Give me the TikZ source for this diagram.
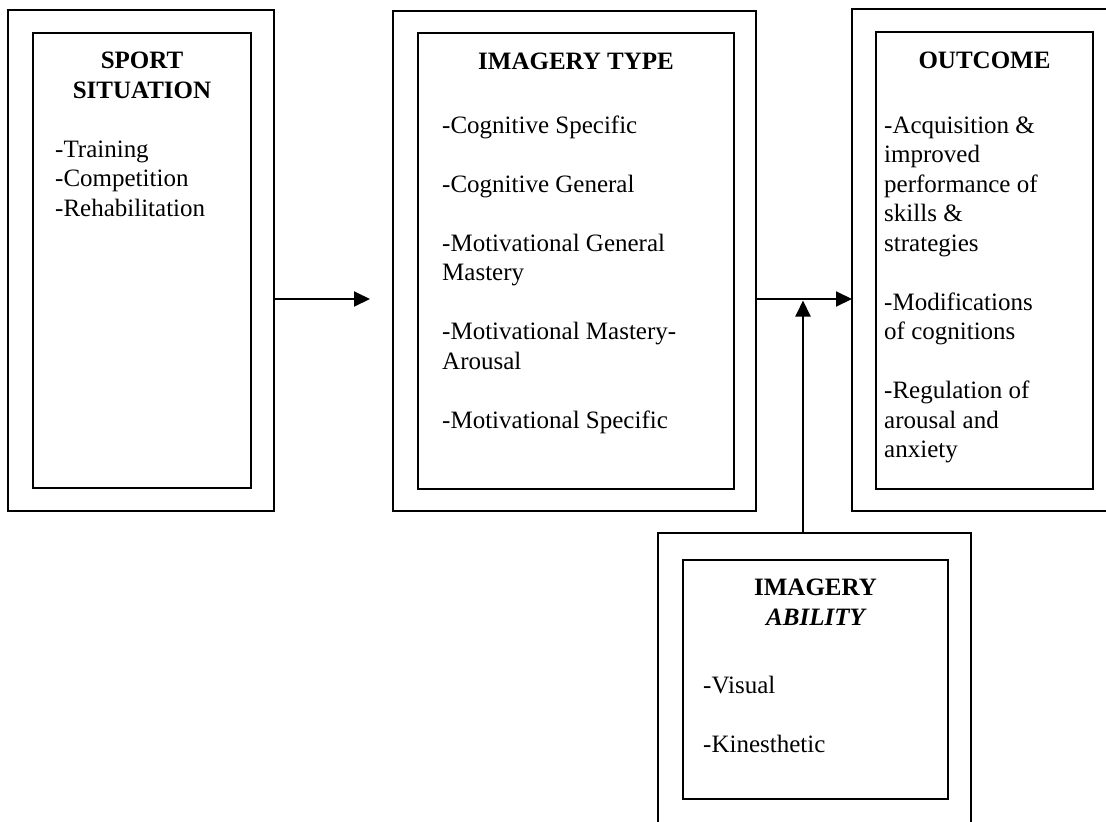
\documentclass[tikz,border=0pt]{standalone}
\usepackage{fontspec}
\setmainfont{Liberation Serif}
\usetikzlibrary{arrows.meta}
\begin{document}
\begin{tikzpicture}[x=1pt,y=-1pt,
  box/.style={draw, line width=2.2pt, inner sep=0pt, outer sep=0pt},
  txt/.style={font=\fontsize{25}{29.5}\selectfont, inner sep=0pt, anchor=base west},
  ttl/.style={font=\fontsize{25}{29.5}\selectfont\bfseries, inner sep=0pt, anchor=base},
  arr/.style={line width=2pt, -{Triangle[length=16pt,width=15pt]}}]
\clip (0,0) rectangle (1106,822);
\fill[white] (0,0) rectangle (1106,822);
% boxes
\node[box, minimum width=266pt, minimum height=501pt] (o1) at (141,260.5) {};
\node[box, minimum width=218pt, minimum height=455pt] (i1) at (142,260.5) {};
\node[box, minimum width=363pt, minimum height=500pt] (o2) at (574.5,261) {};
\node[box, minimum width=316pt, minimum height=456pt] (i2) at (576,261) {};
\node[box, minimum width=268pt, minimum height=502pt] (o3) at (986,260) {};
\node[box, minimum width=217pt, minimum height=457pt] (i3) at (984.5,260.5) {};
\node[box, minimum width=313pt, minimum height=302pt] (o4) at (814.5,684) {};
\node[box, minimum width=265pt, minimum height=239pt] (i4) at (815.5,679.5) {};
% box 1 text
\node[ttl] (t1a) at (142,68) {SPORT};
\node[ttl] (t1b) at (142,98) {SITUATION};
\node[txt] (s1) at (55,157) {-Training};
\node[txt] (s2) at (55,186.5) {-Competition};
\node[txt] (s3) at (55,216) {-Rehabilitation};
% box 2 text
\node[ttl] (t2) at (576,69) {IMAGERY TYPE};
\node[txt] (m1) at (442,133) {-Cognitive Specific};
\node[txt] (m2) at (442,192) {-Cognitive General};
\node[txt] (m3) at (442,251) {-Motivational General};
\node[txt] (m3b) at (442,280.5) {Mastery};
\node[txt] (m4) at (442,339.5) {-Motivational Mastery-};
\node[txt] (m4b) at (442,369) {Arousal};
\node[txt] (m5) at (442,428) {-Motivational Specific};
% box 3 text
\node[ttl] (t3) at (984.5,68) {OUTCOME};
\node[txt] (c1) at (884,133) {-Acquisition \&};
\node[txt] (c1b) at (884,162.5) {improved};
\node[txt] (c1c) at (884,192) {performance of};
\node[txt] (c1d) at (884,221.5) {skills \&};
\node[txt] (c1e) at (884,251) {strategies};
\node[txt] (c2) at (884,310) {-Modifications};
\node[txt] (c2b) at (884,339.5) {of cognitions};
\node[txt] (c3) at (884,398.5) {-Regulation of};
\node[txt] (c3b) at (884,428) {arousal and};
\node[txt] (c3c) at (884,457.5) {anxiety};
% box 4 text
\node[ttl] (t4a) at (815.5,595) {IMAGERY};
\node[ttl, font=\fontsize{25}{29.5}\selectfont\bfseries\itshape] (t4b) at (815.5,625) {ABILITY};
\node[txt] (a1) at (703,693) {-Visual};
\node[txt] (a2) at (703,752) {-Kinesthetic};
% connectors
\coordinate (ay) at (0,299);
\coordinate (tip1) at (370,299);
\coordinate (ux) at (803,0);
\coordinate (join) at (803,300.5);
\draw[arr] (o1.east |- ay) -- (tip1);
\draw[arr] (o2.east |- ay) -- (o3.west |- ay);
\draw[arr] (o4.north -| ux) -- (join);
\end{tikzpicture}
\end{document}
